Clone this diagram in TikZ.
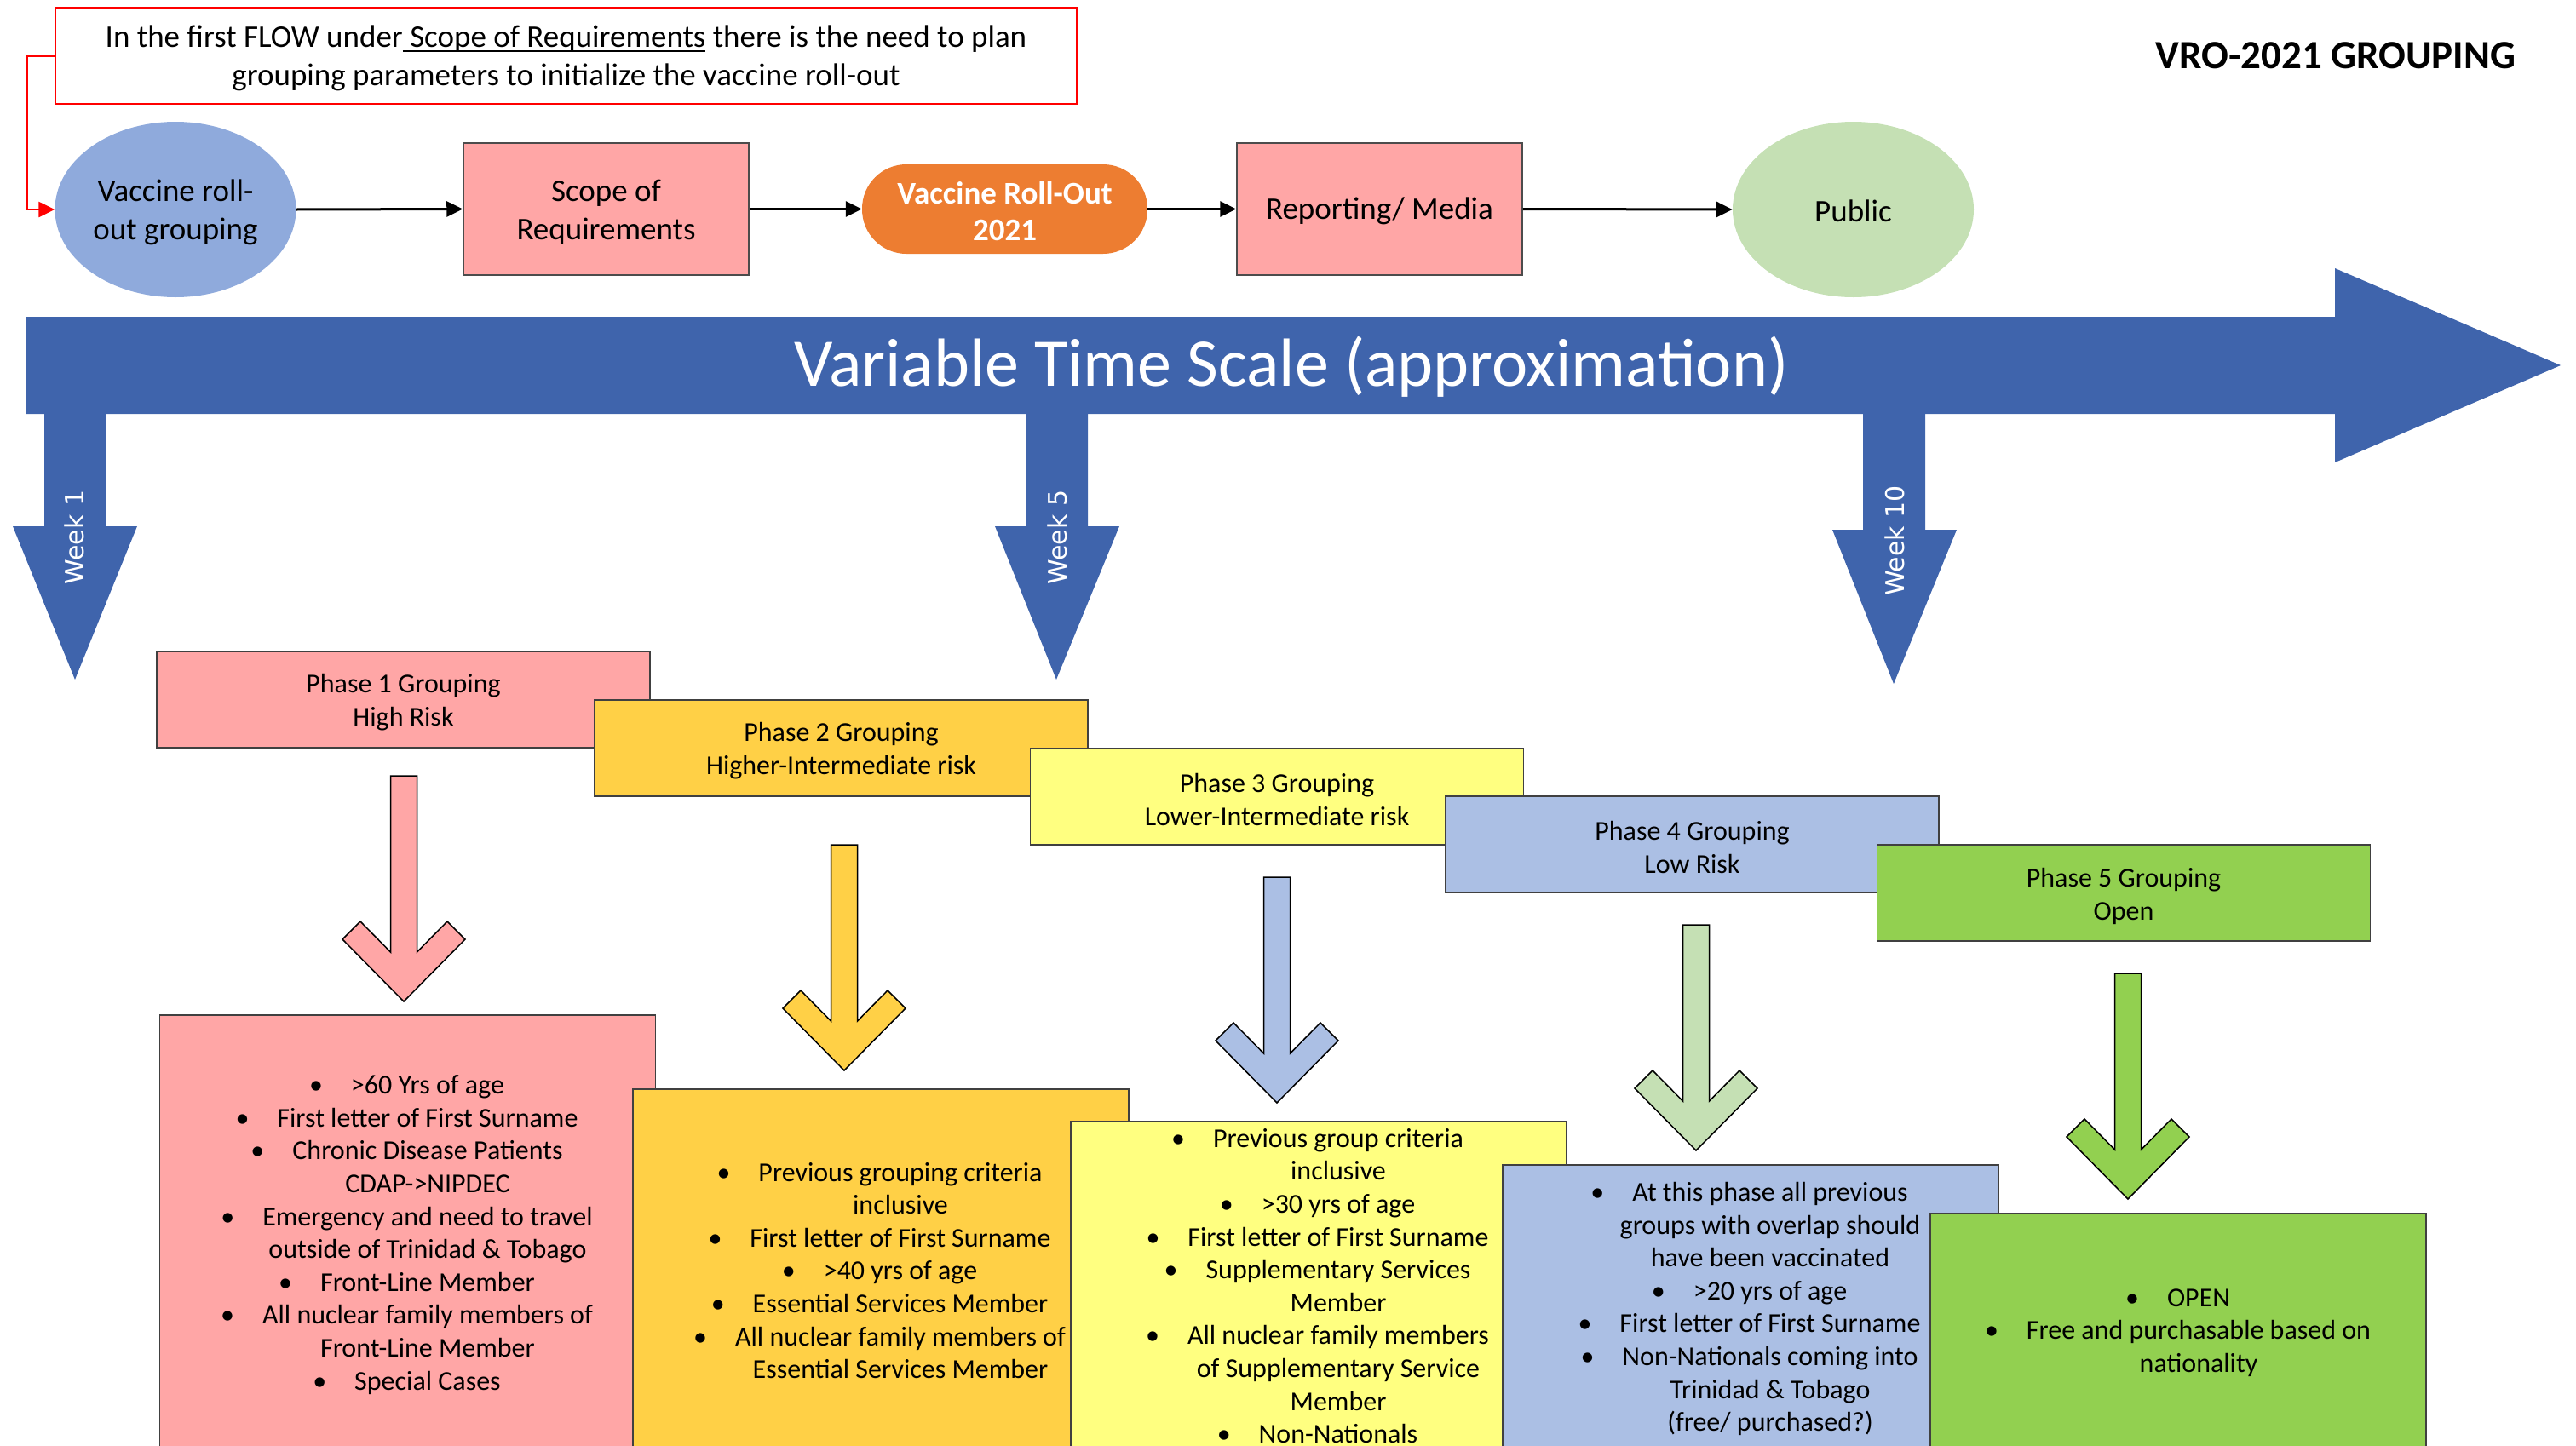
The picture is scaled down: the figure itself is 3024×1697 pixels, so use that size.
\documentclass[tikz,border=0pt]{standalone}
\usepackage{fontspec}
\setmainfont{Carlito}
\newfontfamily\weekfont{DejaVu Sans}
\usetikzlibrary{shapes.geometric,arrows.meta}
\newcommand\myul[1]{\setbox0\hbox{#1}\rlap{\rule[-6pt]{\wd0}{2pt}}\box0}
\newcommand\bul{\llap{\textbullet\hspace{33pt}}}
\definecolor{pinkc}{RGB}{255,166,166}
\definecolor{goldc}{RGB}{255,208,70}
\definecolor{lyelc}{RGB}{255,255,128}
\definecolor{lbluec}{RGB}{171,191,228}
\definecolor{greenc}{RGB}{146,208,80}
\definecolor{lgreenc}{RGB}{197,224,180}
\definecolor{ellbluec}{RGB}{143,170,220}
\definecolor{orangec}{RGB}{237,125,49}
\definecolor{bigbluec}{RGB}{63,100,172}
\tikzset{
  flowtxt/.style={align=center, font=\fontsize{37}{45}\selectfont, inner sep=0pt},
  flowbox/.style={flowtxt, draw=black!70, line width=1.5pt, fill=pinkc, minimum width=335pt, minimum height=155pt},
  flowell/.style={flowtxt, ellipse, minimum width=283pt, minimum height=206pt},
  flowarrow/.style={line width=3pt, -{Triangle[length=19pt,width=18pt]}},
  phasebox/.style={draw=black!75, line width=1.5pt, minimum width=579pt, minimum height=113pt, align=center, font=\fontsize{32}{39}\selectfont, inner sep=0pt},
  contentbox/.style={draw=black!75, line width=1.5pt, minimum width=582pt, inner sep=0pt},
  contenttxt/.style={align=center, font=\fontsize{32}{38.6}\selectfont, inner sep=0pt},
  weeklbl/.style={rotate=90, text=white, font=\weekfont\fontsize{30}{36}\selectfont, inner sep=0pt},
  blockarr/.style={draw=black, line width=1.5pt, line join=miter}
}
\newcommand\blockarrow[3]{%
  \draw[blockarr, fill=#1, shift={(#2,#3)}] (-15.5,0) -- (15.5,0) -- (15.5,207) -- (51,171) -- (72,192) -- (0,265) -- (-72,192) -- (-51,171) -- (-15.5,207) -- cycle;}
\begin{document}
\begin{tikzpicture}[x=1pt,y=-1pt]
\useasboundingbox (0,0) rectangle (3024,1697);
% top note
\draw[draw=red, line width=1.5pt] (65,9) rectangle (1264,122);
\node[align=center, inner sep=0pt, font=\fontsize{37}{45}\selectfont, minimum width=1199pt, minimum height=113pt] (note) at (664.5,65.5) {};
\node[align=center, inner sep=0pt, font=\fontsize{37}{45}\selectfont] (notetxt) at (664.5,68)
  {In the first FLOW under\myul{\ Scope of Requirements}\ there is the need to plan\\grouping parameters to initialize the vaccine roll-out};
\node[font=\bfseries\fontsize{47}{56}\selectfont, anchor=base, inner sep=0pt] (title) at (2742,80) {VRO-2021 GROUPING};
% flow
\node[flowell, fill=ellbluec, text depth=0pt] (e1) at (206,246) {};
\node[flowtxt] (e1t) at (206,249) {Vaccine roll-\\out grouping};
\node[flowbox] (scope) at (711.5,245.5) {};
\node[flowtxt] (scopet) at (711.5,249) {Scope of\\Requirements};
\node[flowtxt, fill=orangec, minimum width=335pt, minimum height=105pt, rounded corners=52pt] (vro) at (1179.5,245.5) {};
\node[flowtxt, text=white, font=\bfseries\fontsize{37}{43}\selectfont] (vrot) at (1179.5,248) {Vaccine Roll-Out\\2021};
\node[flowbox] (rep) at (1619.5,245.5) {};
\node[flowtxt] (rept) at (1619.5,248) {Reporting/ Media};
\node[flowell, fill=lgreenc] (pub) at (2175.5,246) {};
\node[flowtxt] (pubt) at (2175.5,248) {Public};
\draw[flowarrow] (e1.east) -- (scope.west);
\draw[flowarrow] (scope.east) -- (vro.west);
\draw[flowarrow] (vro.east) -- (rep.west);
\draw[flowarrow] (rep.east) -- (pub.west);
\draw[red, line width=2.5pt, -{Triangle[length=19pt,width=18pt]}] (note.west) -- ++(-33,0) |- (e1.west);
% time scale arrow
\fill[bigbluec] (31,372) -- (2741,372) -- (2741,315) -- (3006,429) -- (2741,543) -- (2741,486) -- (31,486) -- cycle;
\fill[bigbluec] (52,480) -- (124,480) -- (124,618) -- (161,618) -- (88,798) -- (15,618) -- (52,618) -- cycle;
\fill[bigbluec] (1204,480) -- (1277,480) -- (1277,618) -- (1314,618) -- (1240,798) -- (1168,618) -- (1204,618) -- cycle;
\fill[bigbluec] (2187,480) -- (2260,480) -- (2260,622) -- (2297,622) -- (2223,803) -- (2151,622) -- (2187,622) -- cycle;
\node[text=white, font=\fontsize{80}{96}\selectfont, anchor=base, inner sep=0pt] (scale) at (1516,453) {Variable Time Scale (approximation)};
\node[weeklbl] (w1) at (87,631) {Week 1};
\node[weeklbl] (w5) at (1241,631) {Week 5};
\node[weeklbl] (w10) at (2224,635) {Week 10};
% phase headers
\node[phasebox, fill=pinkc] (p1) at (473.5,821.5) {};
\node[phasebox, draw=none] (p1t) at (473.5,825) {Phase 1 Grouping\\High Risk};
\node[phasebox, fill=goldc] (p2) at (987.5,878.5) {};
\node[phasebox, draw=none] (p2t) at (987.5,882) {Phase 2 Grouping\\Higher-Intermediate risk};
\node[phasebox, fill=lyelc] (p3) at (1499,935.5) {};
\node[phasebox, draw=none] (p3t) at (1499,939) {Phase 3 Grouping\\Lower-Intermediate risk};
\node[phasebox, fill=lbluec] (p4) at (1986.5,991.5) {};
\node[phasebox, draw=none] (p4t) at (1986.5,995) {Phase 4 Grouping\\Low Risk};
\node[phasebox, fill=greenc] (p5) at (2493,1048.5) {};
\node[phasebox, draw=none] (p5t) at (2493,1052) {Phase 5 Grouping\\Open};
% block arrows
\blockarrow{pinkc}{474}{911}
\blockarrow{goldc}{991}{992}
\blockarrow{lbluec}{1499}{1030}
\blockarrow{lgreenc}{1991}{1086}
\blockarrow{greenc}{2498}{1143}
% content boxes
\node[contentbox, fill=pinkc, minimum height=508pt] (b1) at (478.5,1446) {};
\node[contenttxt] (t1) at (502,1450) {\bul >60 Yrs of age\\\bul First letter of First Surname\\\bul Chronic Disease Patients\\CDAP->NIPDEC\\\bul Emergency and need to travel\\outside of Trinidad \& Tobago\\\bul Front-Line Member\\\bul All nuclear family members of\\Front-Line Member\\\bul Special Cases};
\node[contentbox, fill=goldc, minimum height=421pt] (b2) at (1034,1489.5) {};
\node[contenttxt] (t2) at (1057,1492) {\bul Previous grouping criteria\\inclusive\\\bul First letter of First Surname\\\bul >40 yrs of age\\\bul Essential Services Member\\\bul All nuclear family members of\\Essential Services Member};
\node[contentbox, fill=lyelc, minimum height=383pt] (b3) at (1548,1508.5) {};
\node[contenttxt] (t3) at (1571,1510) {\bul Previous group criteria\\inclusive\\\bul >30 yrs of age\\\bul First letter of First Surname\\\bul Supplementary Services\\Member\\\bul All nuclear family members\\of Supplementary Service\\Member\\\bul Non-Nationals};
\node[contentbox, fill=lbluec, minimum height=332pt] (b4) at (2055,1534) {};
\node[contenttxt] (t4) at (2078,1537) {\bul At this phase all previous\\groups with overlap should\\have been vaccinated\\\bul >20 yrs of age\\\bul First letter of First Surname\\\bul Non-Nationals coming into\\Trinidad \& Tobago\\(free/ purchased?)};
\node[contentbox, fill=greenc, minimum height=275pt] (b5) at (2557,1562.5) {};
\node[contenttxt] (t5) at (2581,1565) {\bul OPEN\\\bul Free and purchasable based on\\nationality};
\end{tikzpicture}
\end{document}
